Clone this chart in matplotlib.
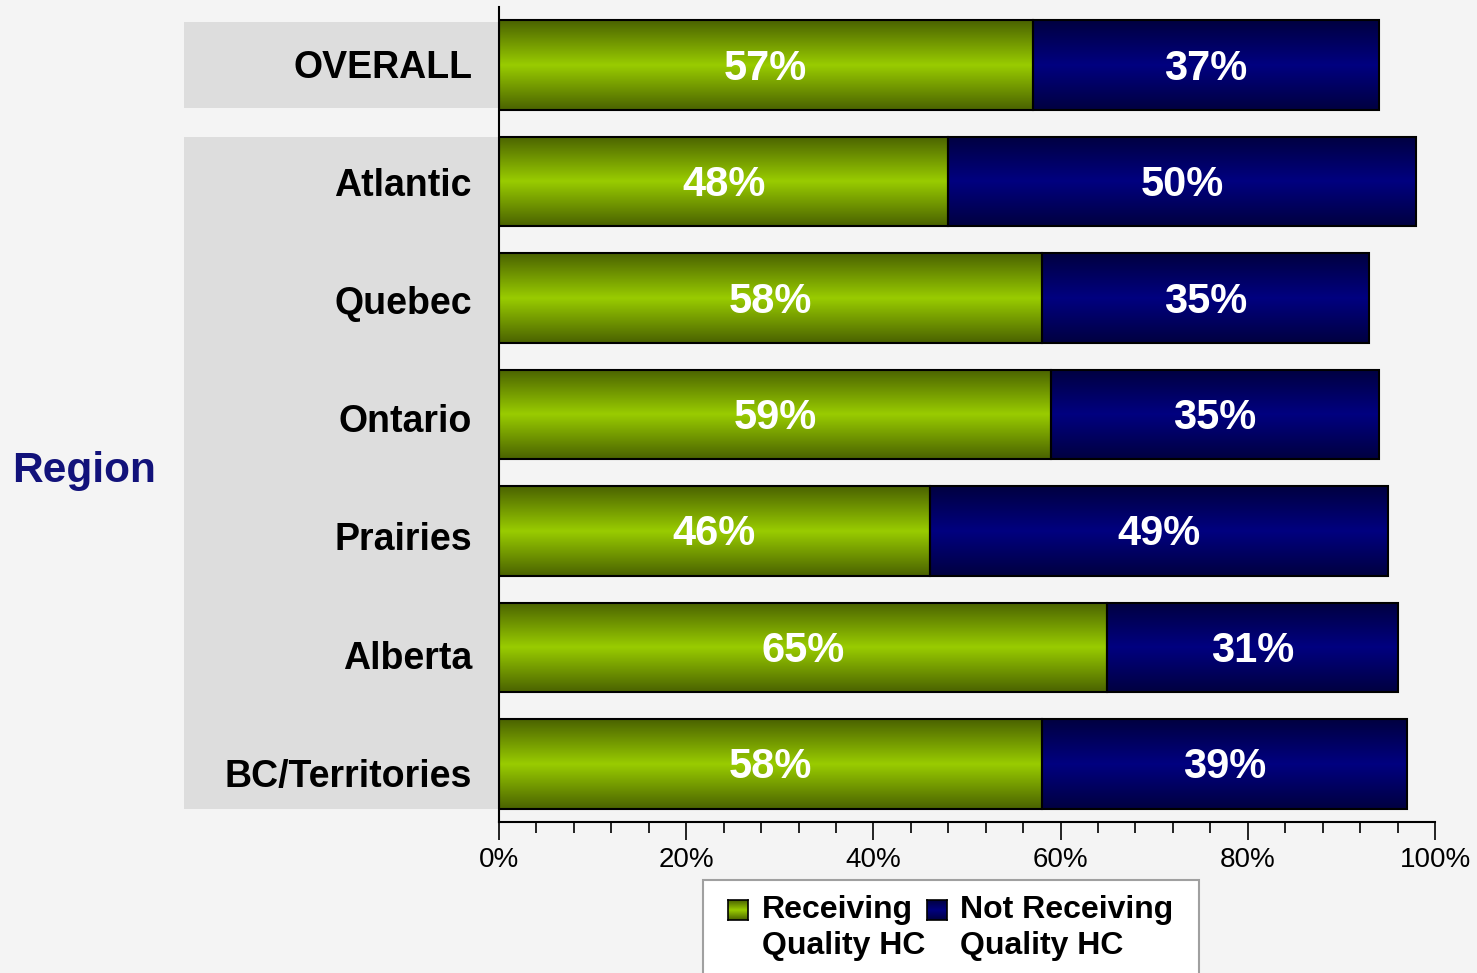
import matplotlib
matplotlib.use("Agg")
import matplotlib.pyplot as plt
import numpy as np
from matplotlib.patches import Rectangle
from matplotlib.colors import LinearSegmentedColormap
import matplotlib.transforms as mtransforms

regions = ["OVERALL", "Atlantic", "Quebec", "Ontario", "Prairies", "Alberta", "BC/Territories"]
receiving = [57, 48, 58, 59, 46, 65, 58]
not_receiving = [37, 50, 35, 35, 49, 31, 39]
series_names = ["Receiving\nQuality HC", "Not Receiving\nQuality HC"]
xticks = [0, 20, 40, 60, 80, 100]

plt.rcParams['font.family'] = ['Liberation Sans', 'DejaVu Sans']

bg = "#f4f4f4"
panel = "#dddddd"
green_cmap = LinearSegmentedColormap.from_list("g", ["#4a6200", "#99cc00", "#4a6200"])
navy_cmap = LinearSegmentedColormap.from_list("n", ["#000040", "#000080", "#000040"])

fig = plt.figure(figsize=(14.77, 9.73), dpi=100, facecolor=bg)
ax = fig.add_axes([499 / 1477, 1 - 822 / 973, 936 / 1477, 815 / 973])
ax.set_facecolor("none")

y = np.arange(len(regions))
h = 0.77
b1 = ax.barh(y, receiving, height=h, color="none", edgecolor="black", linewidth=1.5, zorder=3)
b2 = ax.barh(y, not_receiving, left=receiving, height=h, color="none", edgecolor="black",
             linewidth=1.5, zorder=3)

# vertical gradient fill inside each bar
grad = np.linspace(0, 1, 256).reshape(-1, 1)
for bars, cmap in ((b1, green_cmap), (b2, navy_cmap)):
    for p in bars:
        x0, y0 = p.get_x(), p.get_y()
        ax.imshow(grad, extent=[x0, x0 + p.get_width(), y0 + p.get_height(), y0],
                  aspect="auto", cmap=cmap, zorder=2, interpolation="bilinear")

for i in range(len(regions)):
    ax.text(receiving[i] / 2, y[i] + 0.03, f"{receiving[i]}%", ha="center", va="center",
            color="white", fontsize=30, fontweight="bold", zorder=4)
    ax.text(receiving[i] + not_receiving[i] / 2, y[i] + 0.03, f"{not_receiving[i]}%",
            ha="center", va="center", color="white", fontsize=30, fontweight="bold", zorder=4)

ax.set_xlim(0, 100)
ax.set_ylim(len(regions) - 0.5, -0.5)

# grey panels behind category labels
trans = mtransforms.blended_transform_factory(ax.transAxes, ax.transData)
x_left = (184 - 499) / 936
ax.add_patch(Rectangle((x_left, -0.37), -x_left, 0.74, transform=trans, facecolor=panel,
                       edgecolor="none", clip_on=False, zorder=0))
ax.add_patch(Rectangle((x_left, 1 - h / 2), -x_left, 5 + h, transform=trans, facecolor=panel,
                       edgecolor="none", clip_on=False, zorder=0))

# category labels, spread slightly wider than the bars
for i, name in enumerate(regions):
    ax.text(-27 / 936, y[i] * 1.0155 + 0.02, name, transform=trans, ha="right", va="center",
            fontsize=27, fontweight="bold", color="black")
ax.set_yticks([])

ax.set_xticks(xticks)
ax.set_xticklabels([f"{t}%" for t in xticks], fontsize=20)
ax.set_xticks(np.arange(0, 101, 4), minor=True)
ax.tick_params(axis="x", which="major", length=13, width=1.2, direction="out", pad=5)
ax.tick_params(axis="x", which="minor", length=8, width=1.2, direction="out")

for s in ("top", "right"):
    ax.spines[s].set_visible(False)
ax.spines["bottom"].set_linewidth(1.5)
ax.spines["left"].set_linewidth(1.5)
ax.spines["left"].set_bounds(-0.5, len(regions) - 0.5)

fig.text(84 / 1477, 1 - 471 / 973, "Region", ha="center", va="center", fontsize=30.5,
         fontweight="bold", color="#12127a")

# legend box
fig.patches.append(Rectangle((703 / 1477, -0.01), 496 / 1477, 1 - 880 / 973 + 0.01,
                             transform=fig.transFigure, facecolor="white",
                             edgecolor="#a0a0a0", linewidth=1.5, zorder=0.5))
leg_items = [(728, 762, green_cmap), (927, 960, navy_cmap)]
for (hx, tx, cmap), name in zip(leg_items, series_names):
    ax_h = fig.add_axes([hx / 1477, 1 - 920 / 973, 20 / 1477, 20 / 973])
    ax_h.set_zorder(5)
    ax_h.imshow(grad, cmap=cmap, aspect="auto", interpolation="bilinear")
    ax_h.set_xticks([])
    ax_h.set_yticks([])
    for sp in ax_h.spines.values():
        sp.set_linewidth(1.2)
    fig.text(tx / 1477, 1 - 895 / 973, name, ha="left", va="top", fontsize=23,
             fontweight="bold", linespacing=1.27, zorder=5)

fig.savefig("out.png", dpi=100, facecolor=bg)
